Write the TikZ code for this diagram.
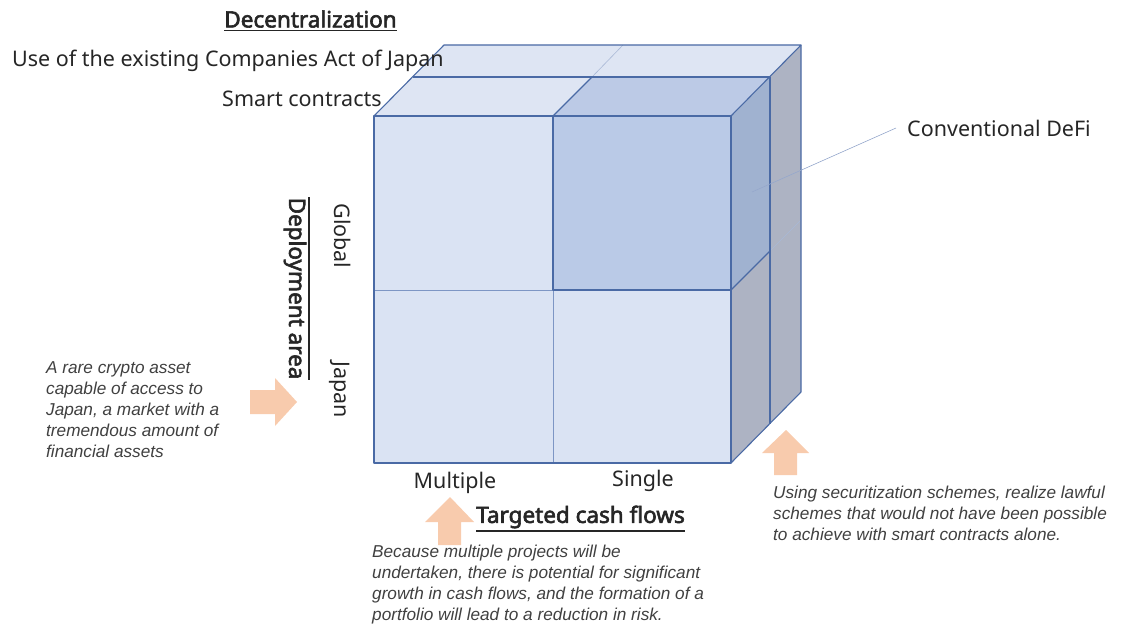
\documentclass[tikz,border=0pt]{standalone}
\usepackage{fontspec}
\setmainfont{Noto Sans}[BoldFont={Noto Sans},BoldFeatures={FakeBold=2.6}]
\newfontfamily\notefont{Liberation Sans}
\definecolor{frontc}{HTML}{DAE3F3}
\definecolor{topc}{HTML}{DEE5F3}
\definecolor{sidec}{HTML}{ADB3C3}
\definecolor{dfront}{HTML}{BACAE7}
\definecolor{dtop}{HTML}{BCCAE6}
\definecolor{dside}{HTML}{A0B2D0}
\definecolor{edgec}{HTML}{4A6AA5}
\definecolor{splitc}{HTML}{7D96C4}
\definecolor{faintc}{HTML}{A9B8D6}
\definecolor{arrowc}{HTML}{F8CBAD}
\definecolor{notec}{HTML}{404040}
\definecolor{labelc}{HTML}{262626}
\begin{document}
\begin{tikzpicture}[x=1pt,y=-1pt,
  edge/.style={draw=edgec,line width=1.1pt,line join=round},
  split/.style={draw=splitc,line width=0.8pt},
  faint/.style={draw=faintc,line width=0.6pt},
  blockarrow/.style={fill=arrowc,draw=none},
  label/.style={inner sep=0pt,text=labelc,font=\fontsize{21.5}{24}\selectfont},
  head/.style={inner sep=0pt,text=labelc,font=\bfseries\fontsize{22.5}{26}\selectfont},
  note/.style={inner sep=0pt,text=notec,align=left,anchor=base west,font=\notefont\itshape\fontsize{17.2}{20.8}\selectfont},
  uline/.style={draw=labelc,line width=1.1pt}]
\useasboundingbox (0,0) rectangle (1121,628);
% corners
\coordinate (A) at (374,116);
\coordinate (B) at (731,116);
\coordinate (C) at (731,463);
\coordinate (D) at (374,463);
\coordinate (Ab) at (444,45);
\coordinate (Bb) at (801,45);
\coordinate (Cb) at (801,392);
\coordinate (Am) at (413,77);
\coordinate (Bm) at (770,77);
\coordinate (Cm) at (770,424);
\coordinate (Mt) at (553,116);
\coordinate (Mtm) at (592,77);
\coordinate (Mtb) at (623,45);
\coordinate (Ml) at (374,290);
\coordinate (Mc) at (553,290);
\coordinate (Mb) at (553,463);
\coordinate (Mr) at (731,290);
\coordinate (Mrm) at (770,251);
\coordinate (Mrb) at (801,220);
% faces
\fill[topc] (A)--(B)--(Bb)--(Ab)--cycle;
\fill[sidec] (B)--(Bb)--(Cb)--(C)--cycle;
\fill[frontc] (A)--(B)--(C)--(D)--cycle;
\fill[dfront] (Mt)--(B)--(Mr)--(Mc)--cycle;
\fill[dtop] (Mt)--(B)--(Bm)--(Mtm)--cycle;
\fill[dside] (B)--(Bm)--(Mrm)--(Mr)--cycle;
% faint lines
\draw[faint] (Mtb)--(Mtm);
\draw[faint] (Mrm)--(Mrb);
% splits
\draw[split] (Ml)--(Mc)--(Mb);
% edges
\draw[edge] (A)--(B)--(C)--(D)--cycle;
\draw[edge] (A)--(Ab)--(Bb)--(B);
\draw[edge] (Bb)--(Cb)--(C);
\draw[edge] (Am)--(Bm)--(Cm);
\draw[edge] (Mt)--(Mc)--(Mr);
\draw[edge] (Mt)--(Mtm);
\draw[edge] (Mr)--(Mrm);
% labels
\node[head,anchor=center] (dec) at (310.5,19) {Decentralization};
\draw[uline] ([yshift=-2.5]dec.south west)--([yshift=-2.5]dec.south east);
\node[label,anchor=west] (comp) at (12,61) {Use of the existing Companies Act of Japan};
\node[label,anchor=west] (smart) at (222,99) {Smart contracts};
\node[label,anchor=center] (defi) at (999,128) {Conventional DeFi};
\coordinate (defitip) at (752,192);
\draw[faintc!80!edgec,line width=0.6pt] ([xshift=-11]defi.west)--(defitip);
\node[label,rotate=-90,anchor=center] (glob) at (343,236) {Global};
\node[label,rotate=-90,anchor=center] (jap) at (340,390) {Japan};
\node[head,rotate=-90,anchor=center] (dep) at (295,288.5) {Deployment area};
\draw[uline] ([xshift=2.5]dep.north west)--([xshift=2.5]dep.north east);
\node[label,anchor=center] (mult) at (455,483) {Multiple};
\node[label,anchor=center] (sing) at (643,481) {Single};
\node[head,anchor=center] (tcf) at (580.5,517) {Targeted cash flows};
\draw[uline] ([yshift=-2.5]tcf.south west)--([yshift=-2.5]tcf.south east);
% arrows
\fill[blockarrow] (250,390)--(275,390)--(275,378)--(297,402)--(275,426)--(275,414)--(250,414)--cycle;
\fill[blockarrow] (450,497)--(474,522)--(461,522)--(461,545)--(438,545)--(438,522)--(425,522)--cycle;
\fill[blockarrow] (786,430)--(809,453)--(797,453)--(797,475)--(774,475)--(774,453)--(762,453)--cycle;
% notes (base anchor = baseline of last line)
\node[note] (n1) at (46,457) {A rare crypto asset\\capable of access to\\Japan, a market with a\\tremendous amount of\\financial assets};
\node[note] (n2) at (372,620) {Because multiple projects will be\\undertaken, there is potential for significant\\growth in cash flows, and the formation of a\\portfolio will lead to a reduction in risk.};
\node[note] (n3) at (773,540) {Using securitization schemes, realize lawful\\schemes that would not have been possible\\to achieve with smart contracts alone.};
\end{tikzpicture}
\end{document}
